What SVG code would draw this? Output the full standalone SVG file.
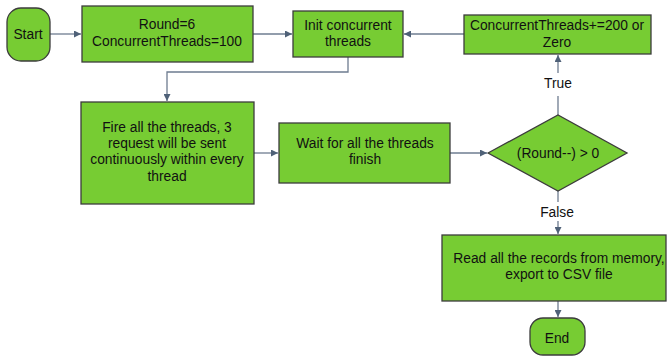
<svg xmlns="http://www.w3.org/2000/svg" width="667" height="356" viewBox="0 0 667 356">
<defs>
<marker id="ah" viewBox="0 0 10 10" refX="10" refY="5" markerWidth="7" markerHeight="7" markerUnits="userSpaceOnUse" orient="auto">
<path d="M0,0 L10,5 L0,10 z" fill="#4f6178"/>
</marker>
</defs>
<style>
.n{fill:#77CC33;stroke:#3c3c3c;stroke-width:1.3}
.t{font-family:"Liberation Sans",Arial,sans-serif;font-size:13.8px;fill:#111;text-anchor:middle}
.c{fill:none;stroke:#6e7c90;stroke-width:1.3}
</style>
<rect width="667" height="356" fill="#fff"/>
<g id="connectors">
<path class="c" d="M50,34 H81" marker-end="url(#ah)"/>
<path class="c" d="M253,34 H292" marker-end="url(#ah)"/>
<path class="c" d="M464,34 H404" marker-end="url(#ah)"/>
<path class="c" d="M348,57 V72 H167 V101" marker-end="url(#ah)"/>
<path class="c" d="M254,153 H278" marker-end="url(#ah)"/>
<path class="c" d="M450,153 H487" marker-end="url(#ah)"/>
<path class="c" d="M558,115 V96"/>
<path class="c" d="M558,73 V55" marker-end="url(#ah)"/>
<path class="c" d="M558,191 V202"/>
<path class="c" d="M558,221 V234" marker-end="url(#ah)"/>
<path class="c" d="M558,301 V317" marker-end="url(#ah)"/>
<text class="t" x="558" y="88">True</text>
<text class="t" x="557" y="217">False</text>
</g>
<g id="start">
<rect class="n" x="7" y="8" width="43" height="53" rx="14" ry="14"/>
<text class="t" x="28" y="39">Start</text>
</g>
<g id="init-round">
<rect class="n" x="82" y="6" width="171" height="56"/>
<text class="t" x="167" y="29">Round=6</text>
<text class="t" x="167" y="46">ConcurrentThreads=100</text>
</g>
<g id="init-threads">
<rect class="n" x="293" y="11" width="110" height="46"/>
<text class="t" x="348" y="30">Init concurrent</text>
<text class="t" x="348" y="46">threads</text>
</g>
<g id="increase">
<rect class="n" x="464" y="15" width="187" height="39"/>
<text class="t" x="557" y="30">ConcurrentThreads+=200 or</text>
<text class="t" x="557" y="47">Zero</text>
</g>
<g id="fire">
<rect class="n" x="81" y="102" width="173" height="102"/>
<text class="t" x="167" y="132">Fire all the threads, 3</text>
<text class="t" x="167" y="148">request will be sent</text>
<text class="t" x="167" y="164">continuously within every</text>
<text class="t" x="167" y="181">thread</text>
</g>
<g id="wait">
<rect class="n" x="279" y="123" width="171" height="60"/>
<text class="t" x="365" y="148">Wait for all the threads</text>
<text class="t" x="365" y="164">finish</text>
</g>
<g id="decision">
<polygon class="n" points="488,153 558,115 627,153 558,191"/>
<text class="t" x="558" y="158">(Round--) &gt; 0</text>
</g>
<g id="read">
<rect class="n" x="442" y="235" width="224" height="66"/>
<text class="t" x="559" y="263">Read all the records from memory,</text>
<text class="t" x="559" y="279">export to CSV file</text>
</g>
<g id="end">
<rect class="n" x="530" y="318" width="55" height="37" rx="13" ry="13"/>
<text class="t" x="557" y="343">End</text>
</g>
</svg>
